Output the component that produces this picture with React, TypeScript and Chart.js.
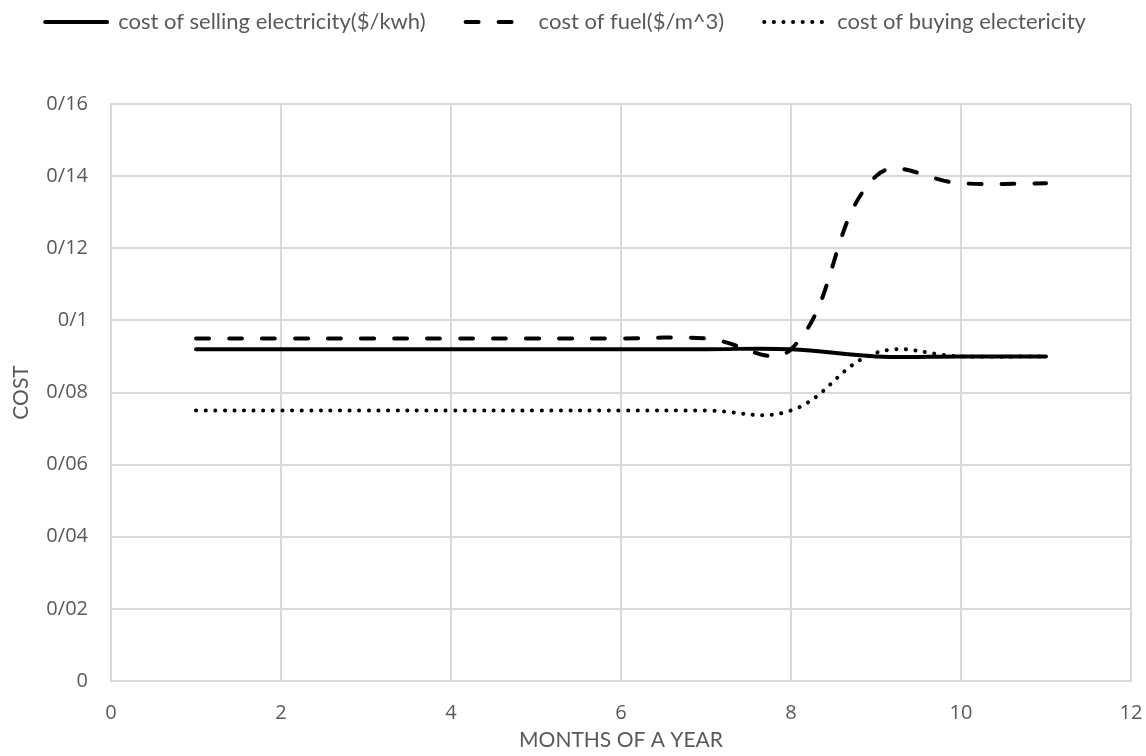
import React, { useEffect, useRef } from 'react';
import { Chart, registerables } from 'chart.js';

Chart.register(...registerables);

// Months of the year on the horizontal axis
const months = [1, 2, 3, 4, 5, 6, 7, 8, 9, 10, 11];

// Cost series
const sellingCost = [0.092, 0.092, 0.092, 0.092, 0.092, 0.092, 0.092, 0.092, 0.09, 0.09, 0.09];
const fuelCost = [0.095, 0.095, 0.095, 0.095, 0.095, 0.095, 0.095, 0.092, 0.14, 0.138, 0.138];
const buyingCost = [0.075, 0.075, 0.075, 0.075, 0.075, 0.075, 0.075, 0.075, 0.091, 0.09, 0.09];

const seriesNames = [
  'cost of selling electricity($/kwh)',
  'cost of fuel($/m^3)',
  'cost of buying electericity',
];

// Axis labels (decimal separator shown as "/")
const xTickLabels = ['0', '2', '4', '6', '8', '10', '12'];
const yTickLabels = ['0', '0/02', '0/04', '0/06', '0/08', '0/1', '0/12', '0/14', '0/16'];
const xTitle = 'MONTHS OF A YEAR';
const yTitle = 'COST';

const GRID = '#d9d9d9';
const TEXT = '#595959';
const LEGEND_PAD = 40;
const LEGEND_TOP = -29;
const PLOT_TOP = 104;

// Keeps the legend box at a fixed height so the plot area starts at PLOT_TOP
const legendHeightPlugin = {
  id: 'legendHeight',
  beforeLayout(chart: any) {
    const lg = chart.legend;
    if (lg && !lg.__fixedHeight) {
      const fit = lg.fit.bind(lg);
      lg.fit = function () {
        fit();
        this.height = PLOT_TOP - LEGEND_TOP;
      };
      lg.__fixedHeight = true;
    }
  },
};

export default function App() {
  const canvasRef = useRef<HTMLCanvasElement | null>(null);

  useEffect(() => {
    if (!canvasRef.current) return;
    const toPoints = (ys: number[]) => months.map((m, i) => ({ x: m, y: ys[i] }));

    const common = {
      borderColor: '#000000',
      backgroundColor: '#000000',
      pointRadius: 0,
      pointHoverRadius: 0,
      tension: 0.4,
      fill: false,
    };

    const chart = new Chart(canvasRef.current, {
      type: 'line',
      data: {
        datasets: [
          {
            ...common,
            label: seriesNames[0],
            data: toPoints(sellingCost),
            borderWidth: 4,
            borderCapStyle: 'round',
          },
          {
            ...common,
            label: seriesNames[1],
            data: toPoints(fuelCost),
            borderWidth: 4,
            borderDash: [13, 20],
            borderCapStyle: 'round',
          },
          {
            ...common,
            label: seriesNames[2],
            data: toPoints(buyingCost),
            borderWidth: 4,
            borderDash: [0.1, 9.5],
            borderCapStyle: 'round',
          },
        ],
      },
      options: {
        animation: false,
        responsive: true,
        maintainAspectRatio: false,
        layout: { padding: { top: LEGEND_TOP, right: 15, left: 0, bottom: 0 } },
        plugins: {
          tooltip: { enabled: false },
          legend: {
            display: true,
            position: 'top',
            align: 'center',
            labels: {
              color: TEXT,
              font: { family: 'Lato', size: 22 },
              usePointStyle: true,
              pointStyleWidth: 62,
              padding: LEGEND_PAD,
              generateLabels: (ch: any) =>
                ch.data.datasets.map((ds: any, i: number) => ({
                  text: ds.label,
                  fillStyle: '#000000',
                  strokeStyle: '#000000',
                  fontColor: TEXT,
                  lineWidth: ds.borderWidth,
                  lineDash: ds.borderDash || [],
                  lineCap: ds.borderCapStyle,
                  pointStyle: 'line',
                  hidden: false,
                  datasetIndex: i,
                })),
            },
          },
        },
        scales: {
          x: {
            type: 'linear',
            min: 0,
            max: 12,
            afterFit: (scale: any) => {
              scale.height = 75;
              scale.paddingLeft = 0;
              scale.paddingRight = 0;
            },
            ticks: {
              stepSize: 2,
              padding: 20,
              color: TEXT,
              font: { family: 'Open Sans', size: 20 },
              callback: (_v: any, i: number) => xTickLabels[i],
            },
            grid: { color: GRID, lineWidth: 2, drawTicks: false },
            border: { display: true, color: GRID, width: 2 },
            title: {
              display: true,
              text: xTitle,
              color: TEXT,
              font: { family: 'Lato', size: 21 },
              padding: { top: 0, bottom: 3 },
            },
          },
          y: {
            type: 'linear',
            min: 0,
            max: 0.16,
            afterFit: (scale: any) => {
              scale.width = 111;
            },
            ticks: {
              stepSize: 0.02,
              padding: 23,
              color: TEXT,
              font: { family: 'Open Sans', size: 20 },
              callback: (_v: any, i: number) => yTickLabels[i],
            },
            grid: { color: GRID, lineWidth: 2, drawTicks: false },
            border: { display: true, color: GRID, width: 2 },
            title: {
              display: true,
              text: yTitle,
              color: TEXT,
              font: { family: 'Lato', size: 21 },
              padding: { top: 9, bottom: 0 },
            },
          },
        },
      },
      plugins: [legendHeightPlugin],
    } as any);

    return () => chart.destroy();
  }, []);

  return (
    <div
      style={{
        position: 'absolute',
        left: 0,
        top: 0,
        width: 1146,
        height: 756,
        overflow: 'hidden',
        background: '#ffffff',
      }}
    >
      <canvas ref={canvasRef} style={{ display: 'block' }} />
    </div>
  );
}
